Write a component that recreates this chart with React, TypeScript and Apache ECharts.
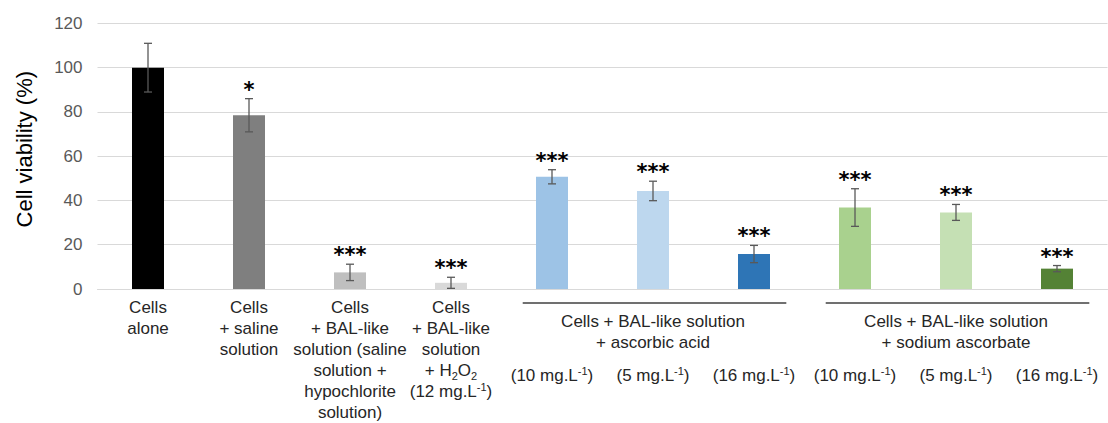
import React, { useEffect, useRef } from "react";
import * as echarts from "echarts";

const categoryLabels: string[] = [
  "Cells\nalone",
  "Cells\n+ saline\nsolution",
  "Cells\n+ BAL-like\nsolution (saline\nsolution +\nhypochlorite\nsolution)",
  "Cells\n+ BAL-like\nsolution\n+ H{sub|2}O{sub|2}\n(12 mg.L{sup|-1})",
  "{gap| }\n(10 mg.L{sup|-1})",
  "{gap| }\n(5 mg.L{sup|-1})",
  "{gap| }\n(16 mg.L{sup|-1})",
  "{gap| }\n(10 mg.L{sup|-1})",
  "{gap| }\n(5 mg.L{sup|-1})",
  "{gap| }\n(16 mg.L{sup|-1})",
];
const viability: number[] = [100, 78.5, 7.5, 2.8, 50.7, 44.3, 15.8, 36.8, 34.6, 9.2];
const errors: number[] = [11, 7.5, 3.7, 2.5, 3.2, 4.4, 3.9, 8.5, 3.6, 1.4];
const significance: string[] = ["", "*", "***", "***", "***", "***", "***", "***", "***", "***"];
const barColors: string[] = [
  "#000000", "#7f7f7f", "#bfbfbf", "#d9d9d9",
  "#9dc3e6", "#bdd7ee", "#2e75b6",
  "#a9d18e", "#c5e0b4", "#548235",
];
const groupTitles: string[] = [
  "Cells + BAL-like solution\n+ ascorbic acid",
  "Cells + BAL-like solution\n+ sodium ascorbate",
];
const groupFrom: number[] = [4, 7];
const groupTo: number[] = [6, 9];
const yTicks = { min: 0, max: 120, interval: 20 };

const FONT = "'Liberation Sans', Arial, sans-serif";

export default function App() {
  const ref = useRef<HTMLDivElement>(null);
  useEffect(() => {
    if (!ref.current) return;
    const chart = echarts.init(ref.current, undefined, { renderer: "svg" });
    const idx = viability.map((_, i) => String(i));
    chart.setOption({
      animation: false,
      grid: { left: 97.5, right: 0.5, top: 23.4, bottom: 132, containLabel: false },
      xAxis: {
        type: "category",
        data: idx,
        axisTick: { show: false },
        axisLine: { lineStyle: { color: "#d9d9d9", width: 1 } },
        axisLabel: {
          interval: 0,
          margin: 8,
          fontSize: 17,
          lineHeight: 21,
          color: "#262626",
          fontFamily: FONT,
          formatter: (_v: string, i: number) => categoryLabels[i],
          rich: {
            sub: { fontSize: 11, verticalAlign: "bottom", color: "#262626", fontFamily: FONT },
            sup: { fontSize: 11, verticalAlign: "top", color: "#262626", fontFamily: FONT },
            gap: { fontSize: 10, lineHeight: 68 },
          },
        },
      },
      yAxis: {
        type: "value",
        min: yTicks.min,
        max: yTicks.max,
        interval: yTicks.interval,
        name: "Cell viability (%)",
        nameLocation: "middle",
        nameGap: 62,
        nameTextStyle: { fontSize: 22, color: "#000000", fontFamily: FONT, padding: [0, 0, 0, 14] },
        axisLine: { show: false },
        axisTick: { show: false },
        axisLabel: { fontSize: 17, color: "#595959", fontFamily: FONT, margin: 15 },
        splitLine: { lineStyle: { color: "#d9d9d9", width: 1 } },
      },
      series: [
        {
          type: "bar",
          barWidth: 32,
          data: viability.map((v, i) => ({ value: v, itemStyle: { color: barColors[i] } })),
        },
        {
          type: "custom",
          z: 5,
          data: viability.map((v, i) => [i, v - errors[i], v + errors[i]]),
          renderItem: (_p: any, api: any) => {
            const lo = api.coord([api.value(0), api.value(1)]);
            const hi = api.coord([api.value(0), api.value(2)]);
            const w = 4;
            const st = { stroke: "#595959", lineWidth: 1.3 };
            return {
              type: "group",
              children: [
                { type: "line", shape: { x1: lo[0], y1: lo[1], x2: hi[0], y2: hi[1] }, style: st },
                { type: "line", shape: { x1: lo[0] - w, y1: lo[1], x2: lo[0] + w, y2: lo[1] }, style: st },
                { type: "line", shape: { x1: hi[0] - w, y1: hi[1], x2: hi[0] + w, y2: hi[1] }, style: st },
              ],
            };
          },
        },
        {
          type: "custom",
          z: 6,
          data: viability.map((v, i) => [i, v + errors[i]]),
          renderItem: (p: any, api: any) => {
            const s = significance[p.dataIndex];
            if (!s) return null;
            const pt = api.coord([api.value(0), api.value(1)]);
            return {
              type: "text",
              x: pt[0],
              y: pt[1] - 9,
              style: {
                text: s,
                fill: "#000000",
                font: "bold 21px 'DejaVu Sans', sans-serif",
                align: "center",
                verticalAlign: "middle",
              },
            };
          },
        },
        {
          type: "custom",
          z: 6,
          data: groupFrom.map((f, i) => [f, 0, groupTo[i]]),
          renderItem: (p: any, api: any) => {
            const a = api.coord([api.value(0), 0]);
            const b = api.coord([api.value(2), 0]);
            const band = api.size([1, 0])[0];
            const mid = (a[0] + b[0]) / 2;
            const y0 = a[1];
            return {
              type: "group",
              children: [
                {
                  type: "line",
                  shape: { x1: a[0] - band * 0.29, y1: y0 + 14, x2: b[0] + band * 0.32, y2: y0 + 14 },
                  style: { stroke: "#404040", lineWidth: 1.3 },
                },
                {
                  type: "text",
                  x: mid,
                  y: y0 + 42.5,
                  style: {
                    text: groupTitles[p.dataIndex],
                    fill: "#262626",
                    font: "17px " + FONT,
                    lineHeight: 21,
                    align: "center",
                    verticalAlign: "middle",
                  },
                },
              ],
            };
          },
        },
      ],
    });
    return () => chart.dispose();
  }, []);
  return (
    <div
      ref={ref}
      style={{ position: "absolute", left: 0, top: 0, width: 1108, height: 423, background: "#ffffff" }}
    />
  );
}
